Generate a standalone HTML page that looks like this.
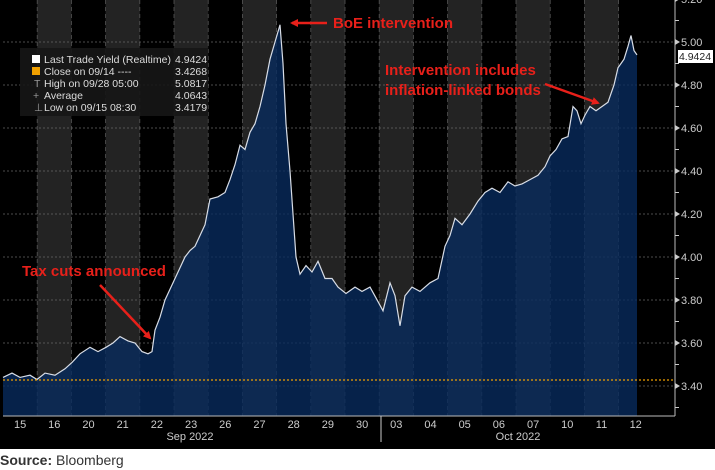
<!DOCTYPE html>
<html><head><meta charset="utf-8"><style>
html,body{margin:0;padding:0;background:#fff;width:715px;height:470px;overflow:hidden}
svg{display:block}
text{font-family:"Liberation Sans",sans-serif}
</style></head><body>
<svg id="s" width="715" height="470" xmlns="http://www.w3.org/2000/svg">
<rect x="0" y="0" width="715" height="449" fill="#000"/>
<g id="bands"></g>
<g id="grid"></g>
<path id="area" fill="rgba(8,42,92,0.8)"/>
<path id="line" fill="none" stroke="#d8dde6" stroke-width="1.2"/>
<line x1="3" y1="380" x2="675" y2="380" stroke="#f0a000" stroke-width="1.2" stroke-dasharray="2,2"/>
<line x1="3" y1="416" x2="675" y2="416" stroke="#bbb" stroke-width="1"/>
<line x1="675" y1="0" x2="675" y2="416" stroke="#bbb" stroke-width="1"/>
<g id="yax" font-size="11" fill="#ccc"></g>
<g id="xax" font-size="11" fill="#ccc"></g>
<line x1="381" y1="416" x2="381" y2="442" stroke="#ccc"/>
<text x="190" y="440" font-size="11" fill="#ccc" text-anchor="middle">Sep 2022</text>
<text x="518" y="440" font-size="11" fill="#ccc" text-anchor="middle">Oct 2022</text>
<rect x="678" y="50" width="35" height="13" fill="#fff"/>
<text x="695" y="60" font-size="10.5" fill="#222" text-anchor="middle">4.9424</text>
<!-- legend -->
<rect x="20" y="48" width="188" height="68" fill="#161616" opacity="0.9"/>
<g font-size="10.5" fill="#ddd">
<rect x="32" y="55" width="8" height="8" fill="#fff"/>
<text x="44" y="63" textLength="127" lengthAdjust="spacingAndGlyphs">Last Trade Yield (Realtime)</text><text x="175" y="63">4.9424</text>
<rect x="32" y="67" width="8" height="8" fill="#f0a000"/>
<text x="44" y="75">Close on 09/14 ----</text><text x="175" y="75">3.4268</text>
<text x="44" y="87">High on 09/28 05:00</text><text x="175" y="87">5.0817</text>
<text x="44" y="99">Average</text><text x="175" y="99">4.0643</text>
<text x="44" y="111">Low on 09/15 08:30</text><text x="175" y="111">3.4179</text>
<text x="34" y="87" fill="#999">T</text><text x="33" y="99" fill="#999">+</text><text x="34" y="111" fill="#999">⊥</text>
</g>
<!-- annotations -->
<g fill="#e8201a" font-size="15" font-weight="bold">
<text x="333" y="28">BoE intervention</text>
<text x="385" y="75">Intervention includes</text>
<text x="385" y="95">inflation-linked bonds</text>
<text x="22" y="276">Tax cuts announced</text>
</g>
<defs><marker id="ah" markerWidth="8" markerHeight="8" refX="6" refY="4" orient="auto" markerUnits="userSpaceOnUse"><path d="M0,0 L8,4 L0,8 z" fill="#e8201a"/></marker></defs>
<g stroke="#e8201a" stroke-width="2.5" marker-end="url(#ah)">
<line x1="327" y1="23" x2="292" y2="23"/>
<line x1="545" y1="84" x2="598" y2="103"/>
<line x1="100" y1="285" x2="150" y2="338"/>
</g>
<text x="0" y="465" font-size="14" fill="#333"><tspan font-weight="bold">Source:</tspan> Bloomberg</text>
</svg>
<script>
var NS="http://www.w3.org/2000/svg";
function el(t,a,p){var e=document.createElementNS(NS,t);for(var k in a)e.setAttribute(k,a[k]);document.getElementById(p).appendChild(e);return e;}
var w=34.2,x0=3;
var days=["15","16","20","21","22","23","26","27","28","29","30","03","04","05","06","07","10","11","12"];
for(var i=0;i<days.length;i++){var x=x0+i*w;
 if(i%2==1)el("rect",{x:x,y:0,width:w,height:416,fill:"#232323"},"bands");
 if(i>0)el("line",{x1:x,y1:0,x2:x,y2:416,stroke:"#555","stroke-dasharray":"4,3","stroke-width":0.8},"grid");
 var t=el("text",{x:x+w/2,y:428,"text-anchor":"middle"},"xax");t.textContent=days[i];}
function Y(v){return 42+(5-v)*215;}
for(var v=3.4;v<=5.21;v+=0.2){var y=Y(v);
 el("line",{x1:3,y1:y,x2:675,y2:y,stroke:"#666","stroke-dasharray":"2,2","stroke-width":0.8},"grid");
 el("path",{d:"M675,"+(y-3)+" L680,"+y+" L675,"+(y+3)+"z",fill:"#ccc"},"yax");
 var t=el("text",{x:681,y:y+4},"yax");t.textContent=v.toFixed(2);
 el("line",{x1:675,y1:y+21.5,x2:679,y2:y+21.5,stroke:"#ccc"},"yax");}
var P=[[3,3.44],[12,3.46],[20,3.44],[30,3.45],[37,3.43],[45,3.46],[55,3.45],[65,3.48],[72,3.51],[80,3.55],[90,3.58],[98,3.56],[106,3.58],[113,3.6],[120,3.63],[128,3.61],[135,3.6],[142,3.56],[148,3.55],[152,3.56],[155,3.66],[160,3.72],[165,3.8],[170,3.85],[175,3.9],[180,3.95],[185,4.0],[190,4.03],[195,4.05],[200,4.1],[205,4.15],[210,4.27],[218,4.28],[225,4.3],[230,4.36],[235,4.43],[240,4.52],[245,4.5],[250,4.58],[255,4.62],[260,4.7],[265,4.8],[270,4.92],[275,5.0],[280,5.08],[283,4.9],[286,4.62],[290,4.4],[293,4.2],[296,4.0],[300,3.92],[306,3.96],[312,3.93],[318,3.98],[325,3.9],[332,3.9],[338,3.86],[346,3.83],[355,3.86],[362,3.84],[370,3.86],[376,3.81],[383,3.75],[390,3.88],[395,3.82],[400,3.68],[405,3.82],[412,3.86],[420,3.84],[430,3.88],[438,3.9],[445,4.05],[450,4.1],[455,4.18],[462,4.15],[470,4.2],[478,4.26],[485,4.3],[492,4.32],[500,4.3],[508,4.35],[515,4.33],[522,4.34],[530,4.36],[538,4.38],[545,4.42],[550,4.47],[556,4.5],[562,4.55],[568,4.56],[573,4.7],[577,4.68],[581,4.62],[585,4.66],[590,4.7],[596,4.68],[602,4.7],[608,4.72],[614,4.8],[618,4.88],[624,4.92],[628,4.98],[631,5.03],[634,4.96],[637,4.94]];
var d="";P.forEach(function(p,i){d+=(i?"L":"M")+p[0]+","+Y(p[1]).toFixed(1);});
document.getElementById("line").setAttribute("d",d);
document.getElementById("area").setAttribute("d",d+"L637,416L3,416Z");
</script>
</body></html>
